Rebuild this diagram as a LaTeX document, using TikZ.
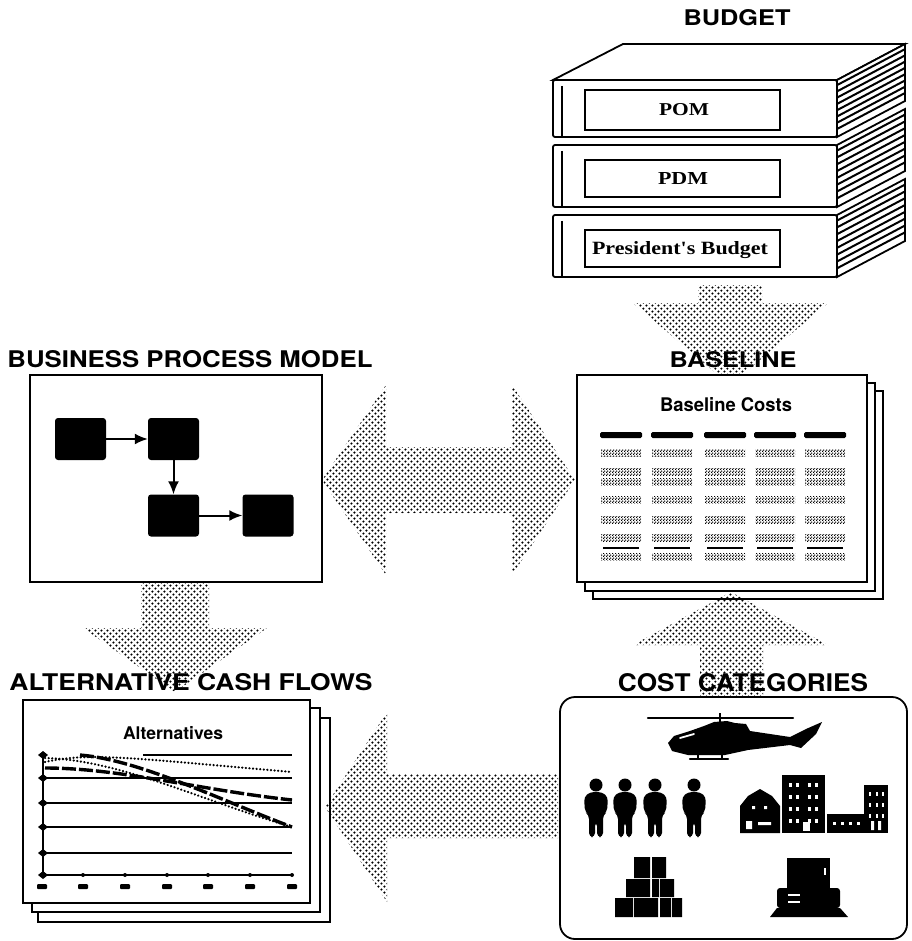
\documentclass[tikz,border=0pt]{standalone}
\usepackage{graphicx}
\usepackage{fontspec}
\setsansfont{TeX Gyre Heros}
\newfontfamily\bookfont{Liberation Serif}
\usetikzlibrary{patterns,arrows.meta}

% coarse halftone for the big flow arrows
\pgfdeclarepatternformonly{halftone}{\pgfqpoint{0pt}{0pt}}{\pgfqpoint{6.4pt}{6.4pt}}{\pgfqpoint{6.4pt}{6.4pt}}{%
  \pgfpathcircle{\pgfqpoint{1.6pt}{1.6pt}}{1.3pt}%
  \pgfpathcircle{\pgfqpoint{4.8pt}{4.8pt}}{1.3pt}%
  \pgfusepath{fill}}
% fine grain for the figures in the cost table
\pgfdeclarepatternformonly{grain}{\pgfqpoint{0pt}{0pt}}{\pgfqpoint{3pt}{3pt}}{\pgfqpoint{3pt}{3pt}}{%
  \pgfpathcircle{\pgfqpoint{0.75pt}{0.75pt}}{0.95pt}%
  \pgfpathcircle{\pgfqpoint{2.25pt}{2.25pt}}{0.95pt}%
  \pgfusepath{fill}}

\newcommand\hdtext[3]{\resizebox{#1pt}{#2pt}{\sffamily\bfseries #3}}

% one binder of the budget stack: top y, bottom y
\newcommand\budgetbook[2]{%
  \filldraw[fill=white,line width=1.8pt,rounded corners=2pt] (553,#1) rectangle (837,#2);
  \draw[line width=1.5pt] (562,#1+6) -- (562,#2);
  \filldraw[fill=white,line width=1.8pt] (837,#1) -- (905,#1-36) -- (905,#2-36) -- (837,#2) -- cycle;
  \foreach \f in {0.09,0.2,...,0.95}
    \draw[line width=2pt] (837,{#1+\f*(#2-#1)}) -- (905,{#1-36+\f*(#2-#1)});
}

% one person of the staff group
\newcommand\staff[1]{%
  \fill (#1,785) circle (6.5);
  \fill[rounded corners=4pt] (#1-11,812) -- (#1-12,797) -- (#1-6,792) -- (#1+6,792) -- (#1+12,797)
    -- (#1+11,812) -- (#1+7,815) -- (#1+7,837) -- (#1+1,837) -- (#1+1,822) -- (#1-1,822)
    -- (#1-1,837) -- (#1-7,837) -- (#1-7,815) -- cycle;
}

\begin{document}
\begin{tikzpicture}[x=1pt,y=-1pt,
  flow/.style={pattern=halftone},
  frame/.style={draw,line width=1.8pt,fill=white,inner sep=0pt},
  blk/.style={fill=black,rounded corners=3pt,minimum width=51pt,minimum height=42pt,inner sep=0pt},
  link/.style={line width=2pt,-{Latex[length=13pt,width=11pt]}},
  ttl/.style={inner sep=0pt},
  cell/.style={pattern=grain},
  series/.style={line width=2.4pt,line cap=round,dash pattern=on 0.1pt off 3.5pt},
  thickseries/.style={line width=3.4pt,dash pattern=on 14pt off 3pt},
]
\useasboundingbox (0,0) rectangle (911,941);

% flow arrows lying behind the boxes
\fill[flow] (698,285) -- (762,285) -- (762,303) -- (828,303) -- (730,385) -- (633,303) -- (698,303) -- cycle;
\fill[flow] (322,480) -- (386,385) -- (386,447) -- (512,447) -- (512,385) -- (575,480)
  -- (512,575) -- (512,513) -- (386,513) -- (386,575) -- cycle;
\fill[flow] (141,583) -- (209,583) -- (209,628) -- (267,628) -- (175,692) -- (83,628) -- (141,628) -- cycle;

% budget binders
\filldraw[fill=white,line width=1.8pt] (553,80) -- (623,44) -- (905,44) -- (837,80) -- cycle;
\budgetbook{80}{137}
\budgetbook{145}{207}
\budgetbook{215}{277}
\draw[line width=1.6pt] (585,90) rectangle (780,130);
\draw[line width=1.6pt] (585,160) rectangle (780,197);
\draw[line width=1.6pt] (585,230) rectangle (780,267);
\node[ttl] (pom) at (684,110) {\resizebox{50pt}{12pt}{\bookfont\bfseries POM}};
\node[ttl] (pdm) at (683,179) {\resizebox{50pt}{12pt}{\bookfont\bfseries PDM}};
\node[ttl] (pbud) at (680,250) {\resizebox{176pt}{13pt}{\bookfont\bfseries President's Budget}};

% business process model
\node[frame,minimum width=292pt,minimum height=207pt] (bpm) at (176,478.5) {};
\node[blk] (n1) at (80.5,439) {};
\node[blk] (n2) at (173.5,439) {};
\node[blk] (n3) at (173.5,515.5) {};
\node[blk] (n4) at (268,515.5) {};
\draw[link] (n1) -- (n2);
\draw[link] (n2) -- (n3);
\draw[link] (n3) -- (n4);

% baseline cost sheets
\filldraw[frame] (593,391) rectangle (883,599);
\filldraw[frame] (585,383) rectangle (875,591);
\node[frame,minimum width=290pt,minimum height=207pt] (base) at (722,478.5) {};
\node[ttl] (bcosts) at (726,405) {\resizebox{132pt}{14pt}{\sffamily\bfseries Baseline Costs}};
\foreach \cx in {621,672,725,775,825} {
  \fill[rounded corners=1.5pt] (\cx-21,432) rectangle (\cx+21,438);
  \foreach \ry in {453,472,482,500,520,538,557}
    \fill[cell] (\cx-20,\ry-3.5) rectangle (\cx+20,\ry+3.5);
  \draw[line width=1.8pt] (\cx-18,548) -- (\cx+18,548);
}

% cost categories feed the baseline
\fill[flow] (731,592) -- (828,645) -- (763,645) -- (763,697) -- (700,697) -- (700,645) -- (633,645) -- cycle;

% alternative cash flow sheets
\filldraw[frame] (38,718) rectangle (330,922);
\filldraw[frame] (32,708) rectangle (320,912);
\node[frame,minimum width=287pt,minimum height=203pt] (alt) at (166.5,801.5) {};
\node[ttl] (alts) at (173,733) {\resizebox{100pt}{13pt}{\sffamily\bfseries Alternatives}};
\draw[line width=1.8pt] (43,752) -- (43,875) -- (292,875);
\foreach \gy in {778,803,827,853}
  \draw[line width=1.6pt] (43,\gy) -- (292,\gy);
\draw[line width=1.6pt] (143,755) -- (292,755);
\foreach \gy in {755,778,803,827,853,875}
  \fill (38,\gy) -- (43,\gy-4) -- (48,\gy) -- (43,\gy+4) -- cycle;
\foreach \tx in {42,83,125,167,208,250,292} {
  \fill (\tx,875) circle (2);
  \fill[rounded corners=1pt] (\tx-5,884) rectangle (\tx+5,889);
}
\draw[series] (45,762) .. controls (90,752) and (130,758) .. (292,772);
\draw[thickseries] (45,768) .. controls (120,768) and (200,790) .. (292,800);
\draw[series] (45,758) .. controls (120,760) and (200,800) .. (292,827);
\draw[thickseries] (80,755) .. controls (140,760) and (220,800) .. (292,827);

% cost categories
\node[draw,line width=1.8pt,rounded corners=15pt,minimum width=347pt,minimum height=242pt] (cost) at (733.5,818) {};
\fill[flow] (325,807) -- (387,712) -- (387,774) -- (558,774) -- (558,838) -- (387,838) -- (387,902) -- cycle;

% helicopter
\fill (668,743) -- (674,736) -- (690,731) -- (704,726) -- (714,722) -- (727,721) -- (735,723) -- (746,724)
  -- (750,731) -- (790,737) -- (806,729) -- (822,722) -- (816,734) -- (801,748) -- (790,745)
  -- (748,750) -- (725,755) -- (688,755) -- (672,751) -- cycle;
\draw[line width=2.2pt,line cap=round] (648,718) -- (793,718);
\draw[line width=2.5pt] (720,713) -- (720,724);
\draw[white,line width=1.8pt,line cap=round] (680,738) -- (694,734);
\draw[line width=2pt] (698,752) -- (698,759) (722,752) -- (722,759);
\draw[line width=2.2pt,line cap=round] (690,759) -- (728,759);

% staff
\staff{596}
\staff{625}
\staff{655}
\staff{694}

% buildings
\fill (740,833) -- (740,806) -- (748,796) -- (760,789) -- (772,796) -- (780,806) -- (780,833) -- cycle;
\fill[white] (752,806) rectangle (755,809) (764,806) rectangle (767,809);
\fill[white] (746,821) rectangle (752,829) (758,822) rectangle (771,825);
\fill (782,775) rectangle (825,833);
\foreach \wy in {783,795,807,819}
  \foreach \wx in {789,796,808,815}
    \fill[white] (\wx,\wy) rectangle +(3,4);
\fill[white] (803,822) rectangle (810,831);
\fill (827,814) rectangle (888,833);
\fill (864,785) rectangle (888,833);
\foreach \wy in {792,803,814}
  \foreach \wx in {869,876,882}
    \fill[white] (\wx,\wy) rectangle +(2,4);
\foreach \wx in {833,841,849,857}
  \fill[white] (\wx,822) rectangle +(3,3);
\fill[white] (871,821) rectangle (874,830) (878,821) rectangle (881,830);

% stacked crates
\fill (634,857) rectangle (650,878) (652,857) rectangle (666,878);
\fill (626,879) rectangle (650,897) (652,879) rectangle (659,897) (660,879) rectangle (674,897);
\fill (615,898) rectangle (633,917) (634,898) rectangle (658,917) (660,898) rectangle (671,917) (672,898) rectangle (682,917);

% computer
\fill (787,858) rectangle (830,890);
\fill[white] (824,868) rectangle (826,875);
\fill[rounded corners=3pt] (777,888) rectangle (840,908);
\draw[white,line width=1.5pt] (788,895) -- (800,895) (788,902) -- (800,902);
\fill (777,908) -- (840,908) -- (848,917) -- (770,917) -- cycle;

% headings
\node[ttl] (tbudget) at (737,18) {\hdtext{107}{16}{BUDGET}};
\node[ttl] (tbpm) at (190,359) {\hdtext{365}{17}{BUSINESS PROCESS MODEL}};
\node[ttl] (tbase) at (733,360) {\hdtext{127}{16}{BASELINE}};
\node[ttl] (talt) at (191,682) {\hdtext{363}{17}{ALTERNATIVE CASH FLOWS}};
\node[ttl] (tcost) at (743,683) {\hdtext{250}{18}{COST CATEGORIES}};
\end{tikzpicture}
\end{document}
